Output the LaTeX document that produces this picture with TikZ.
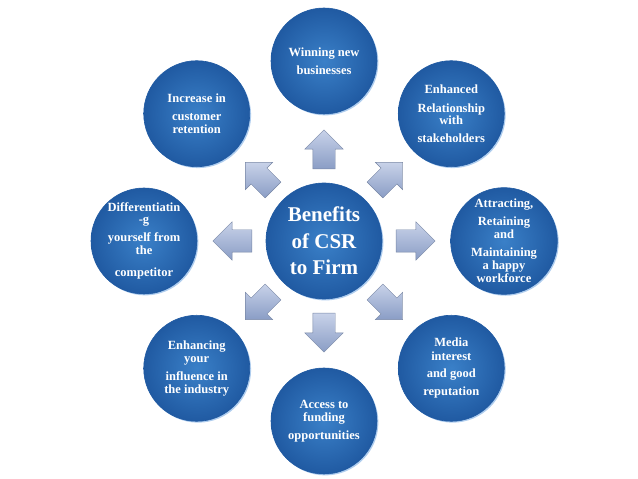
\documentclass[tikz,border=0pt]{standalone}
\usepackage{fontspec}
\setmainfont{Liberation Serif}
\usetikzlibrary{calc, positioning, shapes.arrows, shadows}

\definecolor{csrblue}{RGB}{58,128,200}
\definecolor{csrdark}{RGB}{32,90,162}
\definecolor{csrrim}{RGB}{175,205,238}
\definecolor{arrlight}{RGB}{200,210,233}
\definecolor{arrdark}{RGB}{138,157,197}
\definecolor{arredge}{RGB}{120,135,165}

\tikzset{
  ball/.style={circle, inner sep=0pt, minimum size=106pt, shade,
    inner color=csrblue, outer color=csrdark, draw=csrdark, line width=0.6pt,
    general shadow={fill=csrrim, shadow xshift=1.4pt, shadow yshift=-1.4pt},
    text=white, align=center, font=\fontsize{12.5}{13}\selectfont\bfseries},
  hub/.style={ball, minimum size=116pt, font=\fontsize{21}{26}\selectfont\bfseries},
  pointer/.style={single arrow, single arrow head extend=8pt,
    single arrow head indent=0pt, minimum width=38pt, minimum height=39pt,
    inner xsep=0pt, inner ysep=11pt, shade, top color=arrlight, bottom color=arrdark,
    draw=arredge, line width=0.4pt}
}

\begin{document}
\begin{tikzpicture}[x=1pt, y=1pt]
\useasboundingbox (0,0) rectangle (638,479);

% hub in the middle
\node[hub] (firm) at (324,238) {Benefits\\[1pt]of CSR\\to Firm};

% block arrows going out
\foreach \ang in {0,45,...,315}
  \node[pointer, rotate=\ang] (arr\ang) at ($(firm)+(\ang:86)$) {};

% the eight benefits
\node[ball] (win) at ($(firm)+(90:180)$) {Winning new\\[5pt]businesses};
\node[ball] (stake) at ($(firm)+(45:180)$) {Enhanced\\[6pt]Relationship\\[-1pt]with\\[5pt]stakeholders};
\node[ball] (staff) at ($(firm)+(0:180)$) {Attracting,\\[5pt]Retaining\\and\\[5pt]Maintaining\\a happy\\workforce};
\node[ball] (media) at ($(firm)+(-45:180)$) {Media\\[1pt]interest\\[4pt]and good\\[5pt]reputation};
\node[ball] (fund) at ($(firm)+(-90:180)$) {Access to\\funding\\[5pt]opportunities};
\node[ball] (infl) at ($(firm)+(-135:180)$) {Enhancing\\your\\[5pt]influence in\\the industry};
\node[ball] (diff) at ($(firm)+(180:180)$) {Differentiatin\\[-1pt]-g\\[5pt]yourself from\\the\\[9pt]competitor};
\node[ball] (keep) at ($(firm)+(135:180)$) {Increase in\\[5pt]customer\\retention};
\end{tikzpicture}
\end{document}
